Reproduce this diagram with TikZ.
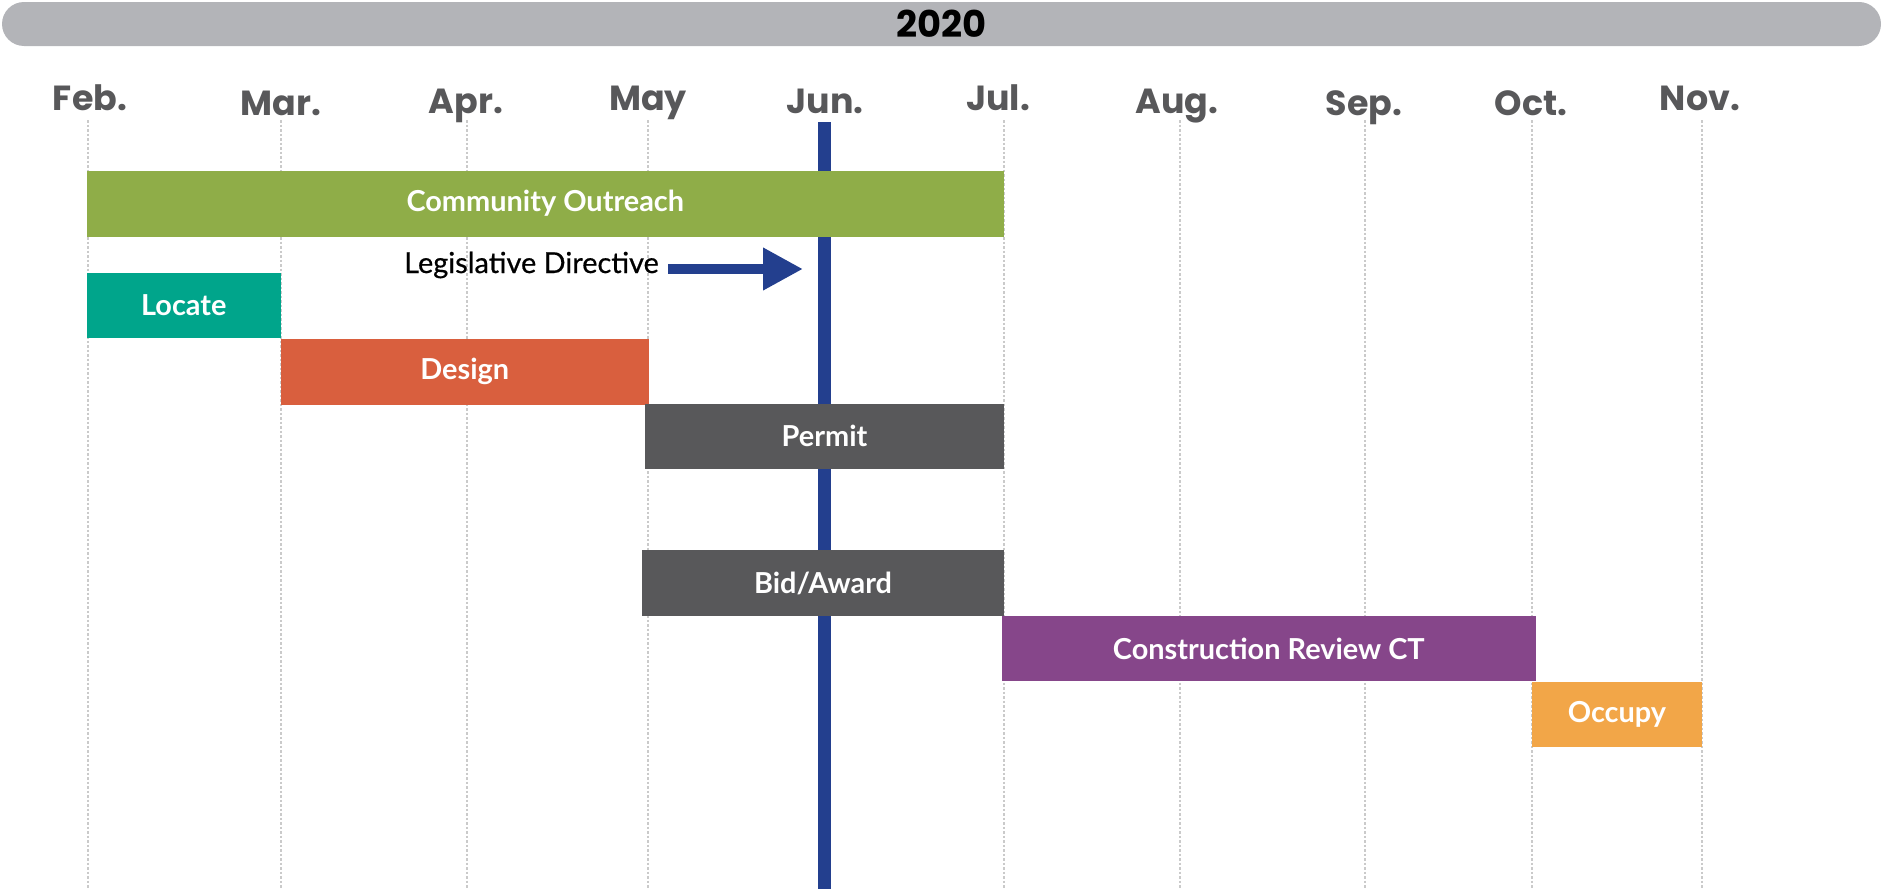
\documentclass[tikz,border=0pt]{standalone}
\usepackage{fontspec}
\setmainfont{Lato}
\newfontfamily\monthfont{Poppins}
\usetikzlibrary{arrows.meta}
\definecolor{yeargray}{HTML}{B3B4B8}
\definecolor{monthgray}{HTML}{58585A}
\definecolor{gridgray}{HTML}{CACACA}
\definecolor{junblue}{HTML}{233F8E}
\definecolor{outreachgreen}{HTML}{8FAD48}
\definecolor{locateteal}{HTML}{00A58B}
\definecolor{designred}{HTML}{D95F3E}
\definecolor{permitgray}{HTML}{58585A}
\definecolor{constrpurple}{HTML}{86468A}
\definecolor{occupyorange}{HTML}{F2A648}
\tikzset{
  monthlabel/.style={font=\monthfont\bfseries\fontsize{35}{35}\selectfont,text=monthgray,inner sep=0pt,anchor=base},
  monthline/.style={draw=gridgray,line width=2.5bp,dash pattern=on 2.5bp off 2bp},
  phase/.style={minimum height=65bp,inner sep=0pt,text=white,font=\bfseries\fontsize{29}{29}\selectfont},
  directive/.style={draw=junblue,line width=10bp,-{Triangle[length=40bp,width=40bp]}}
}

\begin{document}
\begin{tikzpicture}[x=1bp,y=1bp]
\useasboundingbox (0bp,0bp) rectangle (1883bp,-893bp);

% year bar
\node (year) at (941.5bp,-24bp)[fill=yeargray,rounded corners=22bp,minimum width=1879bp,minimum height=44bp,inner sep=0pt,font=\monthfont\bfseries\fontsize{37}{37}\selectfont] {2020};

% months
\node (feb) at (90bp,-110.5bp)[monthlabel] {Feb.};
\node (mar) at (281bp,-115.3bp)[monthlabel] {Mar.};
\node (apr) at (466bp,-113bp)[monthlabel] {Apr.};
\node (may) at (648bp,-110.5bp)[monthlabel] {May};
\node (jun) at (825bp,-113bp)[monthlabel] {Jun.};
\node (jul) at (998bp,-110.5bp)[monthlabel] {Jul.};
\node (aug) at (1177bp,-113bp)[monthlabel] {Aug.};
\node (sep) at (1364bp,-115.3bp)[monthlabel] {Sep.};
\node (oct) at (1531bp,-115.3bp)[monthlabel] {Oct.};
\node (nov) at (1700bp,-110.5bp)[monthlabel] {Nov.};

\draw [monthline] (88bp,-120bp) -- (88bp,-889bp);
\draw [monthline] (281bp,-120bp) -- (281bp,-889bp);
\draw [monthline] (467bp,-120bp) -- (467bp,-889bp);
\draw [monthline] (648bp,-120bp) -- (648bp,-889bp);
\draw [monthline] (1004bp,-120bp) -- (1004bp,-889bp);
\draw [monthline] (1180bp,-120bp) -- (1180bp,-889bp);
\draw [monthline] (1365bp,-120bp) -- (1365bp,-889bp);
\draw [monthline] (1532bp,-120bp) -- (1532bp,-889bp);
\draw [monthline] (1702bp,-120bp) -- (1702bp,-889bp);

% today line
\coordinate (juntop) at (824bp,-122bp);
\coordinate (junbot) at (824bp,-889bp);
\draw [junblue,line width=13bp] (juntop) -- (junbot);

% phases
\node (outreach) at (545.3bp,-203.5bp)[phase,fill=outreachgreen,minimum width=917.5bp,minimum height=66bp] {Community Outreach};
\node (locate) at (183.8bp,-305bp)[phase,fill=locateteal,minimum width=194.5bp] {Locate};
\node (design) at (464.8bp,-371.6bp)[phase,fill=designred,minimum width=367.5bp,minimum height=66bp] {Design};
\node (permit) at (824.5bp,-436bp)[phase,fill=permitgray,minimum width=359bp] {Permit};
\node (bidaward) at (823bp,-583bp)[phase,fill=permitgray,minimum width=361.5bp,minimum height=66bp] {Bid/Award};
\node (construction) at (1268.8bp,-648.5bp)[phase,fill=constrpurple,minimum width=534.5bp] {Construction Review CT};
\node (occupy) at (1617bp,-714.5bp)[phase,fill=occupyorange,minimum width=170bp] {Occupy};

% directive
\node (legis) at (659bp,-265bp)[anchor=east,inner sep=0pt,font=\addfontfeature{FakeBold=0.6}\fontsize{29}{29}\selectfont] {Legislative Directive};
\coordinate (ldtip) at (803bp,-269bp);
\draw [directive] (legis.east) ++(9bp,-4bp) -- (ldtip);
\end{tikzpicture}
\end{document}
